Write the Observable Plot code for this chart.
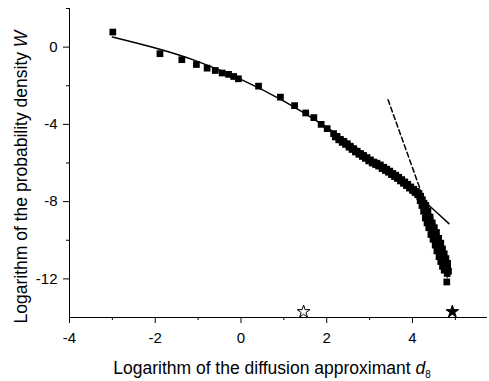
<!DOCTYPE html>
<html><head><meta charset="utf-8">
<script src="https://cdn.jsdelivr.net/npm/d3@7"></script>
<script src="https://cdn.jsdelivr.net/npm/@observablehq/plot@0.6"></script>
<style>body{margin:0;background:#fff}</style>
</head><body><div id="chart"></div>
<script>
// measured points (log d8, log W)
const pointsX = [-2.99,-1.89,-1.38,-1.04,-0.79,-0.60,-0.44,-0.29,-0.17,-0.06,0.41,0.92,1.25,1.51,1.70,1.87,2.01,
  2.16,2.24,2.32,2.40,2.48,2.55,2.63,2.71,2.79,2.86,2.94,3.02,3.10,3.17,3.25,3.33,3.40,3.47,3.54,3.61,3.68,3.75,3.82,3.89,3.96,4.03,4.09,4.15,4.19,
  4.23,4.26,4.29,4.32,4.35,4.38,4.41,4.44,4.47,4.50,4.53,4.56,4.60,4.63,4.66,4.69,4.72,4.75,4.77,4.79,4.81,4.80,
  4.27,4.33,4.40,4.46,4.52,4.58,4.65,4.71,4.76,4.82];
const pointsY = [0.78,-0.34,-0.65,-0.90,-1.09,-1.21,-1.34,-1.41,-1.52,-1.64,-2.02,-2.59,-3.03,-3.41,-3.65,-4.00,-4.22,
  -4.48,-4.62,-4.78,-4.88,-5.00,-5.13,-5.26,-5.39,-5.51,-5.61,-5.72,-5.84,-5.95,-6.01,-6.10,-6.22,-6.32,-6.42,-6.54,-6.63,-6.74,-6.86,-6.98,-7.10,-7.24,-7.36,-7.47,-7.58,-7.72,
  -7.90,-8.08,-8.25,-8.45,-8.62,-8.80,-8.95,-9.15,-9.40,-9.60,-9.80,-9.95,-10.15,-10.35,-10.50,-10.70,-10.90,-11.10,-11.30,-11.50,-11.72,-12.16,
  -8.10,-8.55,-9.00,-9.25,-9.65,-10.00,-10.30,-10.75,-11.00,-11.45];
// extra overlapping points that thicken the dense band
const denseX = [2.20,2.28,2.36,2.44,2.52,2.59,2.67,2.75,2.83,2.90,2.98,3.06,3.14,3.21,3.29,3.37,3.44,3.51,3.58,3.65,3.72,3.79,3.86,3.93,4.00,4.06,4.12,4.17];
const denseY = [-4.65,-4.80,-4.93,-5.04,-5.18,-5.30,-5.43,-5.55,-5.66,-5.76,-5.89,-6.00,-6.08,-6.16,-6.29,-6.39,-6.48,-6.60,-6.70,-6.80,-6.93,-7.05,-7.17,-7.30,-7.42,-7.53,-7.64,-7.75];
// scatter of the steep tail
const tailX = [4.18,4.22,4.26,4.30,4.34,4.38,4.43,4.48,4.53,4.57,4.62,4.66,4.70,4.74,
  4.31,4.36,4.41,4.46,4.51,4.56,4.61,4.66,4.70,4.74,4.78,4.82,4.84];
const tailY = [-7.95,-8.20,-8.50,-8.85,-9.10,-9.35,-9.70,-9.95,-10.25,-10.55,-10.85,-11.10,-11.35,-11.55,
  -8.20,-8.50,-8.80,-9.10,-9.35,-9.60,-9.90,-10.15,-10.45,-10.70,-10.95,-11.20,-11.60];
// error bars on the tail
const errX = [4.58,4.63,4.68,4.72,4.75,4.79,4.81,4.83,4.84];
const errLow = [-10.3,-10.6,-11.0,-11.2,-11.4,-11.8,-12.0,-11.5,-11.9];
const errHigh = [-9.8,-10.1,-10.4,-10.6,-10.8,-11.2,-11.4,-10.9,-11.3];
// solid fit curve
const fitX = [-3.0,-2.0,-1.0,0.0,1.0,2.0,3.0,4.0,4.85];
const fitY = [0.52,-0.05,-0.75,-1.67,-2.80,-4.15,-5.70,-7.45,-9.14];
// dashed asymptote
const dashX = [3.43,4.19];
const dashY = [-2.72,-7.42];
// stars on the x axis
const starX = [1.46,4.93];
const starY = [-13.7,-13.7];
const starFill = ["white","black"];
// ticks
const xMajor = [-4,-2,0,2,4];
const xMinor = [-3,-1,1,3,5];
const yMajor = [0,-4,-8,-12];
const yMinor = [2,-2,-6,-10];

const toRows = (xs, ys) => xs.map((x,i)=>({x, y: ys[i]}));
const points = [...toRows(pointsX, pointsY), ...toRows(denseX, denseY), ...toRows(tailX, tailY)];
const errs = errX.map((x,i)=>({x, y1: errLow[i], y2: errHigh[i]}));
const fit = toRows(fitX, fitY);
const dash = toRows(dashX, dashY);
const stars = starX.map((x,i)=>({x, y: starY[i], f: starFill[i]}));

const chart = Plot.plot({
  width: 489, height: 381,
  marginLeft: 69, marginRight: 2, marginTop: 8, marginBottom: 64,
  style: {fontFamily: "'Liberation Sans', Arial, sans-serif", fontSize: "15px", background: "#fff", color: "#000", overflow: "visible"},
  x: {domain: [-4, 5.75], label: null},
  y: {domain: [-14, 2], label: null},
  marks: [
    Plot.axisX({ticks: xMinor, tickSize: 3, tickFormat: () => "", label: null, strokeWidth: 1}),
    Plot.axisX({ticks: xMajor, tickSize: 6, tickPadding: 9, tickFormat: d => String(d), label: null, strokeWidth: 1}),
    Plot.axisY({ticks: yMinor, tickSize: 3, tickFormat: () => "", label: null, strokeWidth: 1}),
    Plot.axisY({ticks: yMajor, tickSize: 6, tickPadding: 6, tickFormat: d => String(d), label: null, strokeWidth: 1}),
    Plot.ruleY([-14], {stroke: "black"}),
    Plot.ruleX([-4], {stroke: "black"}),
    Plot.line(fit, {x: "x", y: "y", curve: "natural", stroke: "black", strokeWidth: 1.5}),
    Plot.line(dash, {x: "x", y: "y", stroke: "black", strokeWidth: 1.5, strokeDasharray: "5,3"}),
    Plot.ruleX(errs, {x: "x", y1: "y1", y2: "y2", stroke: "black", strokeWidth: 1}),
    Plot.dot(points, {x: "x", y: "y", symbol: "square", r: 3.8, fill: "black", stroke: "none"}),
    Plot.dot(stars, {x: "x", y: "y", symbol: "star", r: 4, fill: "f", stroke: "black", strokeWidth: 1})
  ]
});

const svg = d3.select(chart);
const xl = svg.append("text").attr("x", 272).attr("y", 374).attr("text-anchor", "middle")
  .attr("font-size", 17.5).attr("fill", "black");
xl.append("tspan").text("Logarithm of the diffusion approximant ");
xl.append("tspan").attr("font-style", "italic").text("d");
xl.append("tspan").attr("font-size", 10).attr("dy", 4).text("8");

const yl = svg.append("text").attr("transform", "translate(27,177) rotate(-90)").attr("text-anchor", "middle")
  .attr("font-size", 17.5).attr("fill", "black");
yl.append("tspan").text("Logarithm of the probability density ");
yl.append("tspan").attr("font-style", "italic").text("W");

document.getElementById("chart").appendChild(chart);
</script>
</body></html>
